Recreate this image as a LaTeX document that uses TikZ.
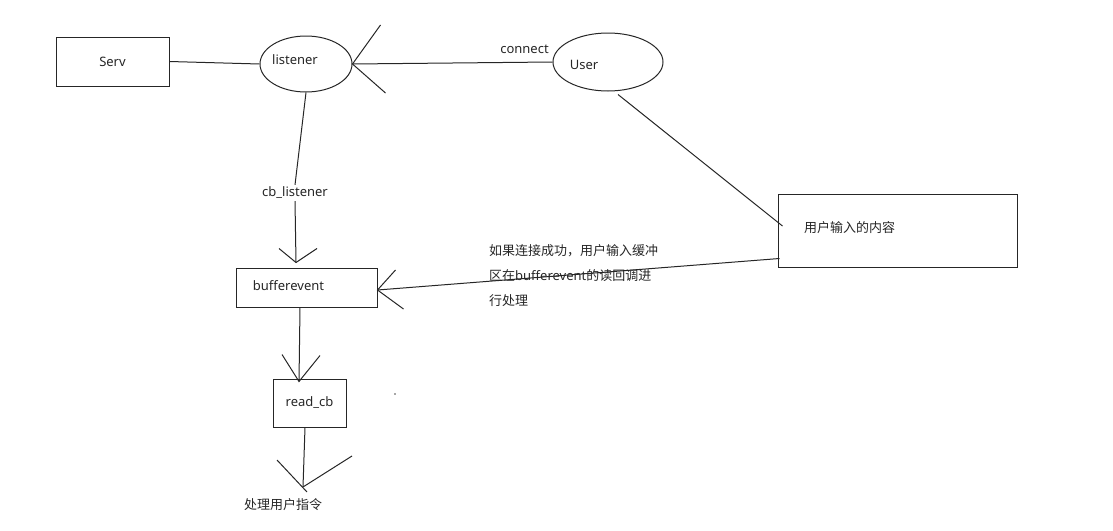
\documentclass[tikz,border=0pt]{standalone}
\usepackage{fontspec}
\setmainfont{Noto Sans}
\newfontfamily\cjk{Noto Sans CJK SC}
\usetikzlibrary{shapes.geometric,calc}
\begin{document}
\begin{tikzpicture}[x=1pt,y=-1pt,
  every node/.style={font=\fontsize{13}{16}\selectfont, text=black!85},
  line/.style={draw=black!85, line width=1pt},
  box/.style={line, rectangle, inner sep=0pt},
  oval/.style={line, ellipse, inner sep=0pt}]
\useasboundingbox (0,0) rectangle (1113,530);

% nodes
\node[box, minimum width=113pt, minimum height=49pt] (serv) at (112.5,61.5) {Serv};
\node[oval, minimum width=92pt, minimum height=56pt,
  label={[xshift=-11pt,yshift=4pt]center:listener}] (listener) at (306,64) {};
\node[oval, minimum width=110pt, minimum height=58pt,
  label={[xshift=-24pt,yshift=-3pt]center:User}] (user) at (608,62) {};
\node[box, minimum width=239pt, minimum height=73pt,
  label={[xshift=-48pt,yshift=3pt]center:{\cjk 用户输入的内容}}] (content) at (897.5,230.5) {};
\node[box, minimum width=141pt, minimum height=39pt,
  label={[xshift=-18pt,yshift=2pt]center:bufferevent}] (buf) at (306.5,287.5) {};
\node[box, minimum width=73pt, minimum height=48pt] (readcb) at (309.5,403) {read\_cb};
\node[inner sep=2pt] (cbl) at (295,193) {cb\_listener};
\node (cmd) at (283,505) {\cjk 处理用户指令};
\node[anchor=north west, align=left, inner sep=0pt, font=\fontsize{13}{25}\selectfont] (note) at (489,244)
  {{\cjk 如果连接成功，用户输入缓冲}\\{\cjk 区在}bufferevent{\cjk 的读回调进}\\{\cjk 行处理}};
\coordinate (endtip) at (303,487);

% connectors
\draw[line] (serv.east) -- (listener.west);
\draw[line] (user.west) -- node[pos=0.14, above=5pt] {connect} (listener.east);
\draw[line] ($(listener.east)+(28,-39)$) -- (listener.east) -- ($(listener.east)+(33,29)$);

\draw[line] ($(user.south)+(10,3)$) -- ($(content.west)+(5,-4.5)$);

\draw[line] (listener.south) -- (cbl.north);
\draw[line] (cbl.south) -- ($(buf.north)+(-10.5,-5)$);
\draw[line] ($(buf.north)+(-10.5,-5)+(-17,-14)$) -- ($(buf.north)+(-10.5,-5)$) -- ($(buf.north)+(-10.5,-5)+(21,-14)$);

\draw[line] ($(content.south west)+(2,-9)$) -- ($(buf.east)+(0,2.5)$);
\draw[line] ($(buf.east)+(0,2.5)+(18,-20)$) -- ($(buf.east)+(0,2.5)$) -- ($(buf.east)+(0,2.5)+(26,19)$);

\draw[line] ($(buf.south)+(-6.5,0)$) -- ($(readcb.north)+(-10.5,3)$);
\draw[line] ($(readcb.north)+(-10.5,3)+(-17,-27)$) -- ($(readcb.north)+(-10.5,3)$) -- ($(readcb.north)+(-10.5,3)+(21,-26)$);

\draw[line] ($(readcb.south)+(-4.5,0)$) -- (endtip);
\draw[line] ($(endtip)+(-26,-27)$) -- ($(endtip)+(4,5)$);
\draw[line] (endtip) -- ($(endtip)+(49,-31)$);

\fill[black!70] (395,394) circle (0.8);
\end{tikzpicture}
\end{document}
